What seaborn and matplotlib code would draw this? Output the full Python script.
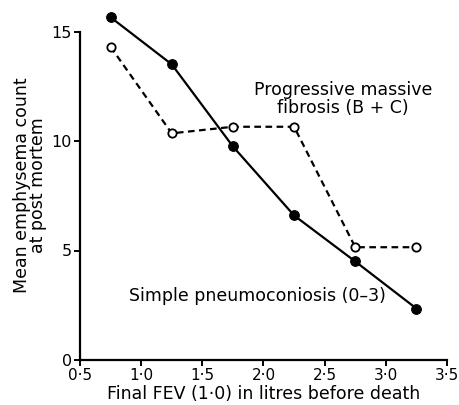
import matplotlib
matplotlib.use("Agg")
import matplotlib.pyplot as plt
import seaborn as sns
import pandas as pd

fev = [0.75, 1.25, 1.75, 2.25, 2.75, 3.25]
simple_vals = [15.65, 13.5, 9.75, 6.6, 4.5, 2.35]
pmf_vals = [14.3, 10.35, 10.65, 10.65, 5.15, 5.15]
xticks = [0.5, 1.0, 1.5, 2.0, 2.5, 3.0, 3.5]
xtick_labels = ["0·5", "1·0", "1·5", "2·0", "2·5", "3·0", "3·5"]
yticks = [0, 5, 10, 15]
ytick_labels = ["0", "5", "10", "15"]

sns.set_theme(style="ticks")
plt.rcParams['font.family'] = ['DejaVu Sans']
plt.rcParams['text.color'] = 'black'
plt.rcParams['axes.labelcolor'] = 'black'

fig = plt.figure(figsize=(4.6, 4.05), dpi=100)
ax = fig.add_axes([80/460, 45/405, 367/460, 350/405])

df_s = pd.DataFrame({"x": fev, "y": simple_vals})
df_p = pd.DataFrame({"x": fev, "y": pmf_vals})

sns.lineplot(data=df_s, x="x", y="y", ax=ax, color="black", lw=1.6,
             marker="o", markersize=7, markerfacecolor="black",
             markeredgecolor="black", clip_on=False)
sns.lineplot(data=df_p, x="x", y="y", ax=ax, color="black", lw=1.6,
             linestyle=(0, (3, 2)), marker="o", markersize=6,
             markerfacecolor="white", markeredgecolor="black",
             markeredgewidth=1.3, clip_on=False)

ax.set_xlim(0.5, 3.5)
ax.set_ylim(0, 350/21.9)
ax.set_xticks(xticks)
ax.set_xticklabels(xtick_labels, fontsize=11)
ax.set_yticks(yticks)
ax.set_yticklabels(ytick_labels, fontsize=11.5)
ax.spines['top'].set_visible(False)
ax.spines['right'].set_visible(False)
ax.spines['left'].set_bounds(0, 15)
for s in ['left', 'bottom']:
    ax.spines[s].set_linewidth(1.6)
    ax.spines[s].set_color("black")
ax.tick_params(axis='both', length=4, width=1.4, colors="black", pad=2)

ax.set_xlabel("Final FEV (1·0) in litres before death", fontsize=12.5,
              labelpad=1, color="black")
ax.set_ylabel("Mean emphysema count\nat post mortem", fontsize=12.5,
              labelpad=3, linespacing=0.9, color="black")

ax.text(2.65, 11.9, "Progressive massive\nfibrosis (B + C)", ha="center",
        va="center", fontsize=12.5, linespacing=1.0, color="black")
ax.text(1.95, 2.9, "Simple pneumoconiosis (0–3)", ha="center", va="center",
        fontsize=12.5, color="black")

fig.savefig("out.png", dpi=100)
